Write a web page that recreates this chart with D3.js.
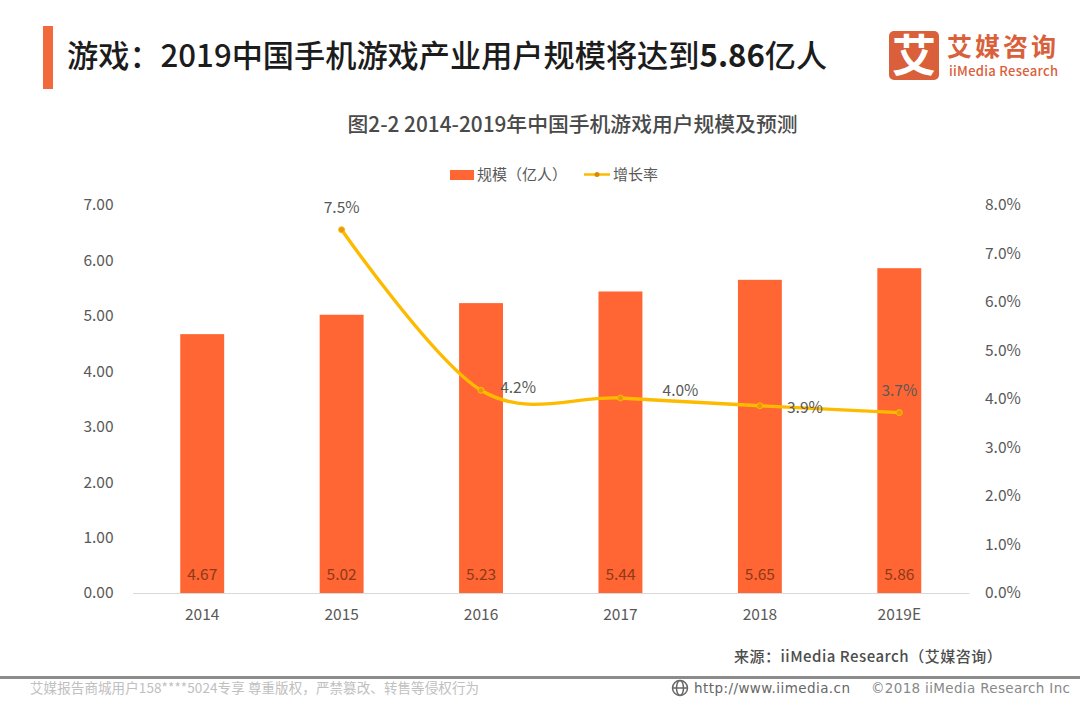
<!DOCTYPE html>
<html><head><meta charset="utf-8">
<script src="https://cdn.jsdelivr.net/npm/d3@7"></script>
<style>html,body{margin:0;padding:0;background:#fff}svg{display:block}text{font-family:"Noto Sans CJK SC","Noto Sans",sans-serif}</style>
</head><body><svg id="c" width="1080" height="702"></svg>
<script>
const categories=["2014","2015","2016","2017","2018","2019E"];
const scaleValues=[4.67,5.02,5.23,5.44,5.65,5.86];
const growthValues=[null,7.49,4.18,4.02,3.86,3.72];
const growthLabels=[null,"7.5%","4.2%","4.0%","3.9%","3.7%"];
const leftTicks=[0,1,2,3,4,5,6,7];
const rightTicks=[0,1,2,3,4,5,6,7,8];

const svg=d3.select("#c");
const x=d3.scaleBand().domain(categories).range([132.5,969]).paddingInner(0.685).paddingOuter(0.3425);
const yL=d3.scaleLinear().domain([0,7]).range([593,205]);
const yR=d3.scaleLinear().domain([0,8]).range([593,205]);
const cx=c=>x(c)+x.bandwidth()/2;
const ORANGE="#ff6633",YEL="#fdbb00",TXT="#595959";

// header
svg.append("rect").attr("x",43).attr("y",26).attr("width",10).attr("height",63).attr("fill","#f26a3c");
const title=svg.append("text").attr("x",67).attr("y",67).attr("font-size",31.2).attr("font-weight",500).attr("fill","#1c1c1c");
title.append("tspan").text("游戏：2019中国手机游戏产业用户规模将达到");
title.append("tspan").attr("font-weight",700).text("5.86");
title.append("tspan").text("亿人");
svg.append("text").attr("x",572.5).attr("y",132).attr("text-anchor","middle").attr("font-size",20.8).attr("font-weight",500).attr("fill","#4a4a4a").text("图2-2 2014-2019年中国手机游戏用户规模及预测");

// logo
svg.append("rect").attr("x",889).attr("y",31).attr("width",50).attr("height",49).attr("rx",5).attr("fill","#d9603a");
svg.append("text").attr("x",914).attr("y",72).attr("text-anchor","middle").attr("font-size",44).attr("font-weight",700).attr("fill","#fff").text("艾");
svg.append("text").attr("x",947).attr("y",56).attr("font-size",25).attr("letter-spacing",3).attr("font-weight",700).attr("fill","#d9603a").text("艾媒咨询");
svg.append("text").attr("x",949).attr("y",76).attr("font-size",13).attr("font-weight",500).attr("fill","#d9603a").attr("textLength",109).text("iiMedia Research");

// legend
svg.append("rect").attr("x",450).attr("y",170).attr("width",24).attr("height",10).attr("fill",ORANGE);
svg.append("text").attr("x",477).attr("y",179.5).attr("font-size",15).attr("fill",TXT).text("规模（亿人）");
svg.append("line").attr("x1",584).attr("x2",610).attr("y1",174.5).attr("y2",174.5).attr("stroke",YEL).attr("stroke-width",2.5);
svg.append("circle").attr("cx",597).attr("cy",174.5).attr("r",2.5).attr("fill","#d98a00");
svg.append("text").attr("x",613).attr("y",179.5).attr("font-size",15).attr("fill",TXT).text("增长率");

// axes
const axL=svg.append("g").attr("transform","translate(132.5,0)").call(d3.axisLeft(yL).tickValues(leftTicks).tickFormat(d3.format(".2f")).tickSize(0).tickPadding(19));
const axR=svg.append("g").attr("transform","translate(969,0)").call(d3.axisRight(yR).tickValues(rightTicks).tickFormat(d=>d.toFixed(1)+"%").tickSize(0).tickPadding(16));
const axB=svg.append("g").attr("transform","translate(0,593)").call(d3.axisBottom(x).tickSize(0).tickPadding(16));
[axL,axR].forEach(a=>a.select(".domain").remove());
axB.select(".domain").attr("stroke","#d9d9d9");
[axL,axR,axB].forEach(a=>a.selectAll("text").attr("font-size",15.5).attr("fill",TXT));

// bars
const pts=categories.map((c,i)=>({c,s:scaleValues[i],g:growthValues[i],l:growthLabels[i]}));
svg.append("g").selectAll("rect").data(pts).join("rect")
  .attr("x",d=>x(d.c)).attr("width",x.bandwidth()).attr("y",d=>yL(d.s)).attr("height",d=>yL(0)-yL(d.s)).attr("fill",ORANGE);
svg.append("g").selectAll("text").data(pts).join("text")
  .attr("x",d=>cx(d.c)).attr("y",580).attr("text-anchor","middle").attr("font-size",15.5).attr("fill","#8c3a1a").text(d=>d.s.toFixed(2));

// line
const gp=pts.filter(d=>d.g!=null);
const line=d3.line().x(d=>cx(d.c)).y(d=>yR(d.g)).curve(d3.curveCatmullRom.alpha(0));
svg.append("path").attr("d",line(gp)).attr("fill","none").attr("stroke",YEL).attr("stroke-width",3.4);
svg.append("g").selectAll("circle").data(gp).join("circle")
  .attr("cx",d=>cx(d.c)).attr("cy",d=>yR(d.g)).attr("r",3).attr("fill","#e59a10").attr("stroke",YEL).attr("stroke-width",1);
const off={"2015":[0,-17],"2016":[37,3],"2017":[60,-2],"2018":[45,7],"2019E":[0,-17]};
svg.append("g").selectAll("text").data(gp).join("text")
  .attr("x",d=>cx(d.c)+off[d.c][0]).attr("y",d=>yR(d.g)+off[d.c][1]).attr("text-anchor","middle")
  .attr("font-size",15.5).attr("fill",TXT).text(d=>d.l);

// source & footer
svg.append("text").attr("x",734).attr("y",662).attr("font-size",15).attr("letter-spacing",0.5).attr("font-weight",500).attr("fill","#4d4d4d").text("来源：iiMedia Research（艾媒咨询）");
svg.append("rect").attr("x",0).attr("y",676).attr("width",1080).attr("height",3).attr("fill","#8c8c8c");
svg.append("text").attr("x",30).attr("y",693).attr("font-size",13.5).attr("letter-spacing",0.1).attr("fill","#c0c0c0").text("艾媒报告商城用户158****5024专享 尊重版权，严禁篡改、转售等侵权行为");
const gl=svg.append("g").attr("fill","none").attr("stroke","#666").attr("stroke-width",1.5);
gl.append("circle").attr("cx",680).attr("cy",688).attr("r",7.5);
gl.append("ellipse").attr("cx",680).attr("cy",688).attr("rx",3.5).attr("ry",7.5);
gl.append("line").attr("x1",672.5).attr("x2",687.5).attr("y1",688).attr("y2",688);
svg.append("text").attr("x",694).attr("y",693).attr("font-size",13.5).attr("fill","#666").style("font-family",'"DejaVu Sans",sans-serif').attr("textLength",156).text("http://www.iimedia.cn");
svg.append("text").attr("x",871).attr("y",693).attr("font-size",13.5).attr("fill","#888").style("font-family",'"DejaVu Sans",sans-serif').attr("textLength",199).text("©2018  iiMedia Research  Inc");
</script></body></html>
